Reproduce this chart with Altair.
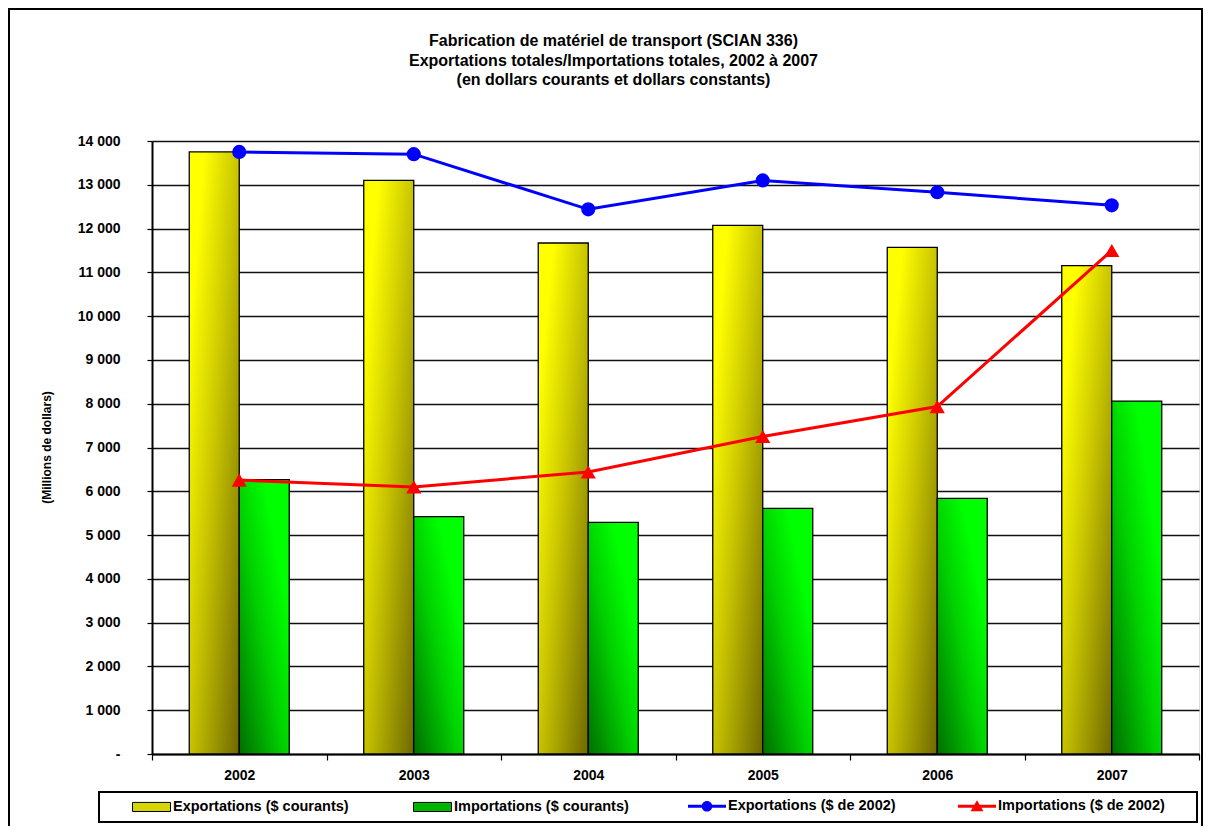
import altair as alt
import pandas as pd

years = ["2002", "2003", "2004", "2005", "2006", "2007"]
exports_current = [13750, 13100, 11670, 12075, 11570, 11155]
imports_current = [6265, 5420, 5290, 5610, 5840, 8060]
exports_2002 = [13750, 13700, 12440, 13100, 12830, 12530]
imports_2002 = [6255, 6100, 6440, 7250, 7935, 11500]

bar_series = ["Exportations ($ courants)", "Importations ($ courants)"]
bar_colors = ["#d8d400", "#00b400"]
line_series = ["Exportations ($ de 2002)", "Importations ($ de 2002)"]
line_colors = ["#0000ff", "#ff0000"]

title_lines = [
    "Fabrication de matériel de transport (SCIAN 336)",
    "Exportations totales/Importations totales, 2002 à 2007",
    "(en dollars courants et dollars constants)",
]
y_title = "(Millions de dollars)"

df = pd.DataFrame({
    "year": years,
    "exp_cur": exports_current,
    "imp_cur": imports_current,
    "exp_const": exports_2002,
    "imp_const": imports_2002,
})
bar_legend_df = pd.DataFrame({"bar_series": bar_series})
line_legend_df = pd.DataFrame({"line_series": line_series})

FONT = "Liberation Sans"

grad_yellow = alt.Gradient(
    gradient="linear", x1=0, y1=0, x2=1, y2=1,
    stops=[
        alt.GradientStop(offset=0, color="#ffff00"),
        alt.GradientStop(offset=0.15, color="#ffff00"),
        alt.GradientStop(offset=0.5, color="#c8c400"),
        alt.GradientStop(offset=1, color="#6e6800"),
    ],
)
grad_green = alt.Gradient(
    gradient="linear", x1=0, y1=1, x2=1, y2=0,
    stops=[
        alt.GradientStop(offset=0, color="#006e00"),
        alt.GradientStop(offset=0.45, color="#00d000"),
        alt.GradientStop(offset=0.75, color="#00ff00"),
        alt.GradientStop(offset=1, color="#00ff00"),
    ],
)

x_enc = alt.X(
    "year:N",
    sort=years,
    scale=alt.Scale(paddingInner=0, paddingOuter=0),
    axis=alt.Axis(
        title=None, labelAngle=0, tickBand="extent", tickSize=6, tickColor="black",
        tickWidth=1.2, domainColor="black", domainWidth=2, labelPadding=8,
        labelFont=FONT, labelFontSize=14, labelFontWeight="bold", labelColor="black",
        grid=False,
    ),
)
y_scale = alt.Scale(domain=[0, 14000], nice=False, zero=True)
y_axis = alt.Axis(
    title=y_title,
    values=list(range(0, 14001, 1000)),
    labelExpr="datum.value == 0 ? '-' : replace(format(datum.value, ','), ',', ' ')",
    labelFont=FONT, labelFontSize=14, labelFontWeight="bold", labelColor="black",
    tickSize=5, tickColor="black", tickWidth=1.2, labelPadding=27,
    domainColor="black", domainWidth=2,
    grid=True, gridColor="#111111", gridWidth=1.3,
    titleFont=FONT, titleFontSize=12, titleFontWeight="bold", titleColor="black",
    titleAngle=270, titleX=-106, titleY=306, titleAlign="center", titleBaseline="middle",
)

base = alt.Chart(df)

bars_exp = base.mark_bar(
    width=50, xOffset=-25, fill=grad_yellow, stroke="black", strokeWidth=1.3
).encode(x=x_enc, y=alt.Y("exp_cur:Q", scale=y_scale, axis=y_axis))

bars_imp = base.mark_bar(
    width=50, xOffset=25, fill=grad_green, stroke="black", strokeWidth=1.3
).encode(x=x_enc, y=alt.Y("imp_cur:Q", scale=y_scale, axis=y_axis))

line_exp = base.mark_line(color="#0000ff", strokeWidth=3).encode(
    x=x_enc, y=alt.Y("exp_const:Q", scale=y_scale, axis=y_axis))
pts_exp = base.mark_point(shape="circle", filled=True, size=200, color="#0000ff", opacity=1).encode(
    x=x_enc, y=alt.Y("exp_const:Q", scale=y_scale, axis=y_axis))

line_imp = base.mark_line(color="#ff0000", strokeWidth=3).encode(
    x=x_enc, y=alt.Y("imp_const:Q", scale=y_scale, axis=y_axis))
pts_imp = base.mark_point(shape="triangle-up", filled=True, size=230, color="#ff0000", opacity=1).encode(
    x=x_enc, y=alt.Y("imp_const:Q", scale=y_scale, axis=y_axis))

# legend-only layers (no drawn data)
rect_path = "M-1,-0.24H1V0.24H-1Z"
circle_path = ("M-1,-0.08H1V0.08H-1Z "
               "M-0.28,0A0.28,0.28 0 1,1 0.28,0A0.28,0.28 0 1,1 -0.28,0Z")
tri_path = "M-1,-0.08H1V0.08H-1Z M0,-0.32L0.34,0.26L-0.34,0.26Z"

common_legend = dict(
    title=None, orient="none", direction="horizontal",
    columns=2, columnPadding=62, symbolSize=1444, labelOffset=2, labelLimit=400,
    labelFont=FONT, labelFontSize=14.5, labelFontWeight="bold", labelColor="black",
    padding=0, symbolOpacity=1,
)
bar_legend = alt.Legend(
    legendX=-20, legendY=646, symbolType=rect_path,
    symbolStrokeColor="black", symbolStrokeWidth=1, **common_legend,
)
line_legend = alt.Legend(
    legendX=536, legendY=646, symbolStrokeWidth=0, **common_legend,
)

bar_legend_layer = alt.Chart(bar_legend_df).mark_point(filled=True, shape=rect_path).encode(
    fill=alt.Fill("bar_series:N", scale=alt.Scale(domain=bar_series, range=bar_colors), legend=bar_legend),
).transform_filter("false")

line_legend_layer = alt.Chart(line_legend_df).mark_point(filled=True).encode(
    color=alt.Color("line_series:N", scale=alt.Scale(domain=line_series, range=line_colors), legend=line_legend),
    shape=alt.Shape("line_series:N", scale=alt.Scale(domain=line_series, range=[circle_path, tri_path]),
                    legend=line_legend),
).transform_filter("false")

# decorative frames
outer_frame = alt.Chart(alt.Data(values=[{}])).mark_rect(
    fill="white", fillOpacity=0, stroke="black", strokeWidth=2
).encode(x=alt.value(-143), x2=alt.value(1050), y=alt.value(-132), y2=alt.value(740))
legend_frame = alt.Chart(alt.Data(values=[{}])).mark_rect(
    fill="white", fillOpacity=0, stroke="black", strokeWidth=2
).encode(x=alt.value(-53), x2=alt.value(1045), y=alt.value(651), y2=alt.value(681))

chart = alt.layer(
    bars_exp, bars_imp, line_exp, line_imp, pts_exp, pts_imp,
    bar_legend_layer, line_legend_layer, outer_frame, legend_frame
).properties(
    width=1047,
    height=613,
    autosize=alt.AutoSizeParams(type="none"),
    padding={"left": 144, "top": 133, "right": 4, "bottom": 72},
    title=alt.TitleParams(
        text=title_lines, font=FONT, fontSize=16, fontWeight="bold", color="black",
        anchor="middle", dx=-62, offset=0, dy=80, lineHeight=19.5,
    ),
).configure_view(
    stroke="black", strokeWidth=2
).configure(background="white")

chart.save("out.html", embed_options={"renderer": "svg", "actions": False})
